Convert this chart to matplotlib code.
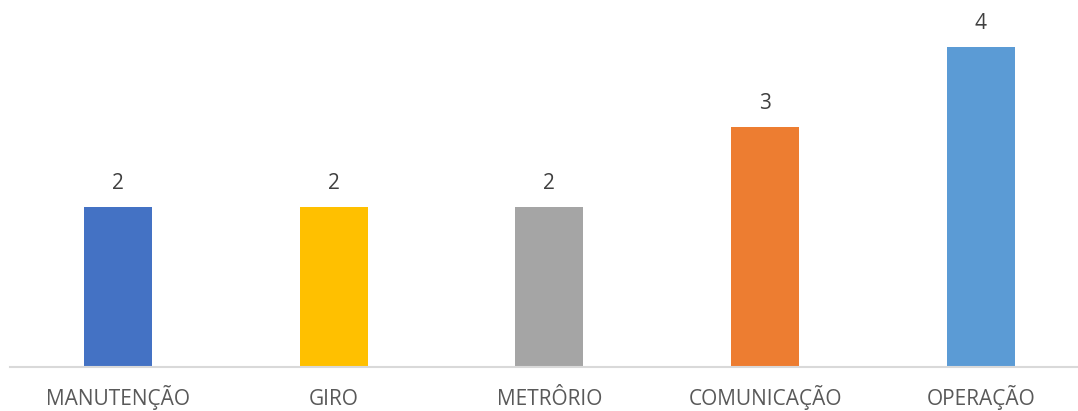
import matplotlib
matplotlib.use("Agg")
import matplotlib.pyplot as plt

categories = ["MANUTENÇÃO", "GIRO", "METRÔRIO", "COMUNICAÇÃO", "OPERAÇÃO"]
values = [2, 2, 2, 3, 4]
colors = ["#4472C4", "#FFC000", "#A5A5A5", "#ED7D31", "#5B9BD5"]

plt.rcParams['font.family'] = ['Open Sans', 'DejaVu Sans']

W, H = 1078, 411
fig = plt.figure(figsize=(W / 100, H / 100), dpi=100)
# axes: left 10px, bottom at y=367 from top, top at 7px
ax = fig.add_axes([10 / W, 44 / H, 1068 / W, 360 / H])

x = list(range(len(categories)))
bars = ax.bar(x, values, width=0.315, color=colors, zorder=2)
step = 215.75
ax.set_xlim(-0.5, -0.5 + 1068 / step)
ax.set_ylim(0, 4.5)

for xi, v in zip(x, values):
    ax.annotate(str(v), (xi, v), xytext=(0, 13), textcoords="offset points",
                ha="center", va="baseline", fontsize=15, color="#404040")

ax.set_xticks(x)
ax.set_xticklabels(categories, fontsize=15, color="#595959")
for lbl in ax.get_xticklabels():
    lbl.set_verticalalignment("baseline")
ax.tick_params(axis="x", length=0, pad=27.3)
ax.set_yticks([])
for s in ["top", "right", "left"]:
    ax.spines[s].set_visible(False)
ax.spines["bottom"].set_color("#D9D9D9")
ax.spines["bottom"].set_linewidth(1.5)

fig.savefig("out.png", dpi=100)
